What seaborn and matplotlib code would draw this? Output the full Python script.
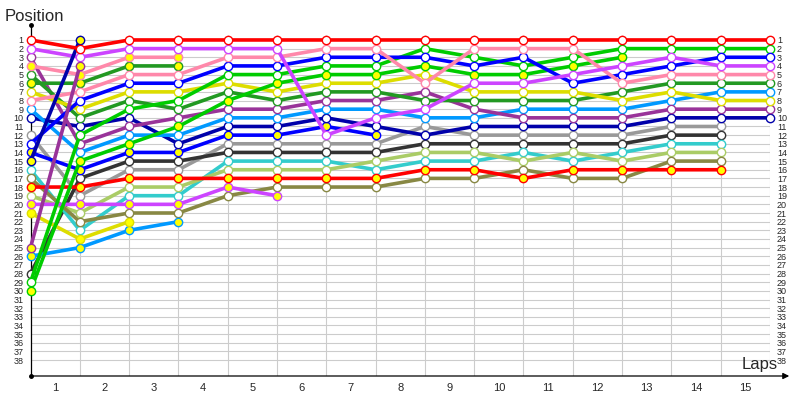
"""
Lap chart: race position of every car on the grid and after each lap.
"""
import pandas as pd
import matplotlib
matplotlib.use("Agg")
import matplotlib.pyplot as plt
import seaborn as sns

# lap 0 is the starting grid, then laps 1..15
laps = list(range(16))
lap_labels = [str(i) for i in range(1, 16)]
positions = list(range(1, 39))

# position of each car, from the grid to the last lap it completed
red_a = [1, 2, 1, 1, 1, 1, 1, 1, 1, 1, 1, 1, 1, 1, 1, 1]
red_b = [18, 18, 17, 17, 17, 17, 17, 17, 16, 16, 17, 16, 16, 16, 16]
violet_a = [2, 3, 2, 2, 2, 2, 12, 10, 9, 6, 6, 5, 4, 3, 4, 4]
violet_b = [20, 20, 20, 20, 18, 19]
purple_a = [3, 13, 11, 10, 9, 9, 8, 8, 7, 9, 10, 10, 10, 9, 9, 9]
purple_b = [25, 4]
pink_a = [8, 7, 5, 5, 3, 3, 2, 2, 6, 2, 2, 2, 6, 5, 5, 5]
pink_b = [4, 5, 3, 3]
dgreen_a = [5, 10, 8, 9, 7, 8, 7, 7, 8, 8, 8, 8, 7, 6, 6, 6]
dgreen_b = [6, 6, 4, 4]
lgreen_a = [29, 12, 9, 8, 5, 5, 4, 4, 2, 3, 4, 3, 2, 2, 2, 2]
lgreen_b = [30, 15, 13, 11, 8, 6, 5, 5, 4, 5, 5, 4, 3]
yellow_a = [7, 9, 7, 7, 6, 7, 6, 6, 5, 7, 7, 7, 8, 7, 8, 8]
yellow_b = [21, 24, 22]
blue_a = [13, 8, 6, 6, 4, 4, 3, 3, 3, 4, 3, 6, 5, 4, 3, 3]
blue_b = [14, 16, 14, 14, 12, 12, 11, 12]
navy_a = [10, 11, 10, 13, 11, 11, 10, 11, 12, 11, 11, 11, 11, 10, 10, 10]
navy_b = [15, 1]
sky_a = [9, 14, 12, 12, 10, 10, 9, 9, 10, 10, 9, 9, 9, 8, 7, 7]
sky_b = [26, 25, 23, 22]
grey_a = [12, 19, 16, 16, 13, 13, 13, 13, 11, 12, 12, 12, 12, 11, 11]
dgrey_a = [28, 17, 15, 15, 14, 14, 14, 14, 13, 13, 13, 13, 13, 12, 12]
cyan_a = [16, 23, 19, 19, 15, 15, 15, 16, 15, 15, 14, 15, 14, 13, 13]
lolive_a = [19, 21, 18, 18, 16, 16, 16, 15, 14, 14, 15, 14, 15, 14, 14]
olive_a = [17, 22, 21, 21, 19, 18, 18, 18, 17, 17, 16, 17, 17, 15, 15]

# name, positions, colour, second car of the team (yellow marker)
cars = [
    ("grey_a", grey_a, "#999999", False),
    ("dgrey_a", dgrey_a, "#333333", False),
    ("cyan_a", cyan_a, "#33cccc", False),
    ("lolive_a", lolive_a, "#aacc66", False),
    ("olive_a", olive_a, "#888844", False),
    ("sky_b", sky_b, "#0099ff", True),
    ("yellow_b", yellow_b, "#dddd00", True),
    ("violet_b", violet_b, "#cc44ff", True),
    ("red_b", red_b, "#ff0000", True),
    ("blue_b", blue_b, "#0000ff", True),
    ("navy_a", navy_a, "#0000aa", False),
    ("sky_a", sky_a, "#0099ff", False),
    ("purple_a", purple_a, "#993399", False),
    ("dgreen_a", dgreen_a, "#229922", False),
    ("yellow_a", yellow_a, "#dddd00", False),
    ("lgreen_b", lgreen_b, "#00cc00", True),
    ("lgreen_a", lgreen_a, "#00cc00", False),
    ("blue_a", blue_a, "#0000ff", False),
    ("dgreen_b", dgreen_b, "#229922", True),
    ("pink_a", pink_a, "#ff88aa", False),
    ("pink_b", pink_b, "#ff88aa", True),
    ("violet_a", violet_a, "#cc44ff", False),
    ("purple_b", purple_b, "#993399", True),
    ("navy_b", navy_b, "#0000aa", True),
    ("red_a", red_a, "#ff0000", False),
]

df = pd.DataFrame([
    {"car": name, "lap": laps[i], "pos": p}
    for name, pos, _, _ in cars for i, p in enumerate(pos)
])

sns.set_style("white")
plt.rcParams["font.family"] = ["Liberation Sans", "DejaVu Sans"]

fig = plt.figure(figsize=(8, 4), dpi=100)
ax = fig.add_axes([30.5 / 800, 24 / 400, 739.5 / 800, 351 / 400])

# grid
for p in positions:
    ax.axhline(p, color="#cccccc", lw=0.8, zorder=0)
ax.vlines(range(1, 16), 0.4, 39.84, color="#cccccc", lw=0.8, zorder=0)

for name, pos, col, second in cars:
    sns.lineplot(data=df[df["car"] == name], x="lap", y="pos", ax=ax,
                 color=col, linewidth=2.6, marker="o", markersize=6,
                 markerfacecolor="#ffff00" if second else "white",
                 markeredgecolor=col, markeredgewidth=1.0,
                 sort=False, estimator=None, legend=False, clip_on=False)

ax.set_xlim(0, 15)
ax.set_ylim(39.84, -0.73)
ax.set_xlabel("")
ax.set_ylabel("")

ax.set_yticks(positions)
ax.set_yticklabels([str(p) for p in positions])
ax.tick_params(axis="y", length=0, labelsize=6.5, pad=5,
               labelleft=True, labelright=True)
ax.set_xticks([i + 0.5 for i in range(15)])
ax.set_xticklabels(lap_labels)
ax.tick_params(axis="x", length=0, labelsize=8, pad=5)

for s in ["top", "right"]:
    ax.spines[s].set_visible(False)
ax.spines["bottom"].set_visible(False)
ax.spines["left"].set_color("black")
ax.spines["left"].set_linewidth(0.9)
ax.spines["left"].set_zorder(0.5)

# axis arrows
ax.annotate("", xy=(1.026, 0), xytext=(0, 0), xycoords="axes fraction",
            arrowprops=dict(arrowstyle="-|>", color="black", lw=0.9,
                            mutation_scale=9, shrinkA=0, shrinkB=0))
ax.plot([0, 0], [-0.73, 39.84], "o", color="black", ms=2.5, clip_on=False)

fig.text(5 / 800, 1 - 21 / 400, "Position", fontsize=12, va="baseline")
fig.text(742 / 800, 1 - 369 / 400, "Laps", fontsize=12, va="baseline")

fig.savefig("out.png", dpi=100)
